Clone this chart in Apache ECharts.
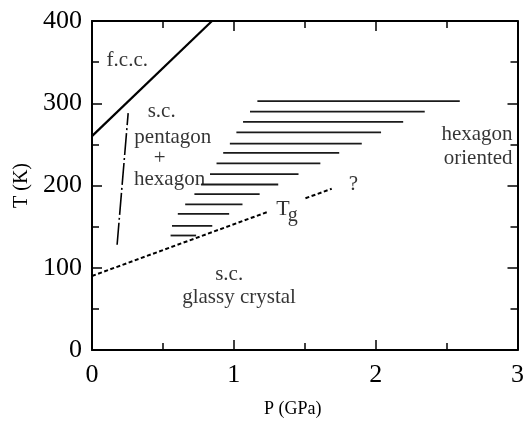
<!DOCTYPE html>
<html>
<head>
<meta charset="utf-8">
<script src="https://cdn.jsdelivr.net/npm/echarts@6/dist/echarts.min.js"></script>
<style>
  html, body { margin: 0; padding: 0; background: #fff; }
  #chart { width: 527px; height: 423px; }
</style>
</head>
<body>
<div id="chart"></div>
<script>
// Phase diagram of a nanocluster system: temperature T (K) versus pressure P (GPa)

// Axis ranges and ticks
const pTicks = [0, 1, 2, 3];
const tTicks = [0, 100, 200, 300, 400];

// Boundary lines [P, T]
const fccBoundary = [[0, 260], [0.846, 400]];
const pentagonBoundary = [[0.177, 128], [0.255, 288]];
const glassLineLow = [[0, 90], [1.248, 168.5]];
const glassLineHigh = [[1.505, 184.5], [1.69, 196]];

// Hatched coexistence region: each stroke at temperature hatchT from hatchFrom to hatchTo (GPa)
const hatchT    = [302.6, 289.9, 277.3, 264.6, 250.9, 239.6, 226.9, 213.8, 201.2, 189.4, 177.0, 165.6, 150.8, 139.2];
const hatchFrom = [1.166, 1.114, 1.065, 1.018, 0.972, 0.925, 0.878, 0.832, 0.769, 0.722, 0.657, 0.605, 0.564, 0.554];
const hatchTo   = [2.593, 2.346, 2.194, 2.038, 1.902, 1.743, 1.610, 1.456, 1.313, 1.182, 1.061, 0.967, 0.848, 0.734];

// Region names and their anchor points [P, T]
const regionText = ['f.c.c.', 's.c.', 'pentagon', '+', 'hexagon', 'hexagon', 'oriented', 's.c.', 'glassy crystal', 'T', 'g', '?'];
const regionP    = [0.249, 0.491, 0.570, 0.477, 0.547, 2.965, 2.965, 0.967, 1.037, 1.346, 1.416, 1.843];
const regionT    = [352, 290, 258.6, 232.5, 207, 262, 232.5, 91.7, 63.8, 171.3, 163.4, 201];

const FONT = 'Liberation Serif';
const INK = '#000';
// a hard one-pixel offset shadow gives the type a slightly heavier stroke
const HEAVY = { textShadowColor: INK, textShadowBlur: 0, textShadowOffsetX: 0.6, textShadowOffsetY: 0 };

function lineSeries(points, style) {
  return {
    type: 'line',
    data: points,
    symbol: 'none',
    silent: true,
    animation: false,
    lineStyle: Object.assign({ color: INK, width: 2 }, style)
  };
}

const series = [];
series.push(lineSeries(fccBoundary, { width: 2.2 }));
series.push(lineSeries(pentagonBoundary, { width: 1.6, type: [22, 3, 2, 3] }));
series.push(lineSeries(glassLineLow, { width: 2, type: [4, 2.5] }));
series.push(lineSeries(glassLineHigh, { width: 2, type: [4, 2.5] }));
hatchT.forEach((t, i) => {
  series.push(lineSeries([[hatchFrom[i], t], [hatchTo[i], t]], { width: 1.8, color: '#1a1a1a' }));
});

// Text styling per label (right-hand labels end at their anchor)
const labelSize = { 'T': 22, 'g': 20 };
const rightAligned = { 5: true, 6: true };
series.push({
  type: 'scatter',
  symbolSize: 0,
  silent: true,
  animation: false,
  data: regionText.map((txt, i) => ({
    value: [regionP[i], regionT[i]],
    label: Object.assign({
      show: true,
      position: 'inside',
      formatter: txt,
      fontFamily: FONT,
      fontSize: labelSize[txt] || 21,
      color: INK,
      align: rightAligned[i] ? 'right' : 'center',
      verticalAlign: 'middle'
    }, HEAVY)
  }))
});

const axisLine = { show: true, onZero: false, lineStyle: { color: INK, width: 2 } };
const tickStyle = { inside: true, length: 10, lineStyle: { color: INK, width: 1.5 } };
const minorStyle = { show: true, splitNumber: 2, length: 7, lineStyle: { color: INK, width: 1.5 } };

const chart = echarts.init(document.getElementById('chart'), null, { renderer: 'canvas' });
chart.setOption({
  backgroundColor: '#fff',
  animation: false,
  textStyle: { fontFamily: FONT },
  grid: { left: 92, right: 7, top: 21, bottom: 65.3, containLabel: false },
  xAxis: [
    {
      type: 'value', position: 'bottom',
      min: pTicks[0], max: pTicks[pTicks.length - 1], interval: 1,
      axisLine: axisLine, axisTick: tickStyle, minorTick: minorStyle,
      splitLine: { show: false },
      axisLabel: Object.assign({ margin: 12, fontFamily: FONT, fontSize: 26, color: INK }, HEAVY),
      name: 'P (GPa)', nameLocation: 'middle', nameGap: 50,
      nameTextStyle: Object.assign({ fontFamily: FONT, fontSize: 18, color: INK, padding: [0, 24, 0, 0] }, HEAVY)
    },
    {
      type: 'value', position: 'top',
      min: pTicks[0], max: pTicks[pTicks.length - 1], interval: 1,
      axisLine: axisLine, axisTick: tickStyle, minorTick: minorStyle,
      splitLine: { show: false }, axisLabel: { show: false }
    }
  ],
  yAxis: [
    {
      type: 'value', position: 'left',
      min: tTicks[0], max: tTicks[tTicks.length - 1], interval: 100,
      axisLine: axisLine, axisTick: tickStyle, minorTick: minorStyle,
      splitLine: { show: false },
      axisLabel: Object.assign({ margin: 10, fontFamily: FONT, fontSize: 26, color: INK }, HEAVY),
      name: 'T (K)', nameLocation: 'middle', nameGap: 58,
      nameTextStyle: Object.assign({ fontFamily: FONT, fontSize: 20, color: INK }, HEAVY)
    },
    {
      type: 'value', position: 'right',
      min: tTicks[0], max: tTicks[tTicks.length - 1], interval: 100,
      axisLine: axisLine, axisTick: tickStyle, minorTick: minorStyle,
      splitLine: { show: false }, axisLabel: { show: false }
    }
  ],
  series: series
});
</script>
</body>
</html>
